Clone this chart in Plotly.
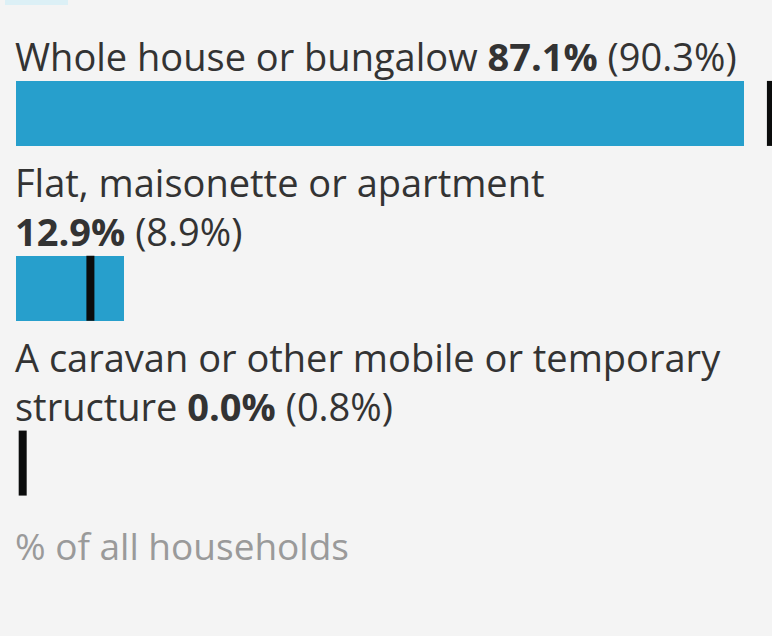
import plotly.graph_objects as go

# ---- data ----
categories = ["Whole house or bungalow",
              "Flat, maisonette or apartment",
              "A caravan or other mobile or temporary structure"]
area_values = [87.1, 12.9, 0.0]
comparison_values = [90.3, 8.9, 0.8]
axis_note = "% of all households"

# ---- styling / layout constants ----
W, H = 772, 636
BG = "#f4f4f4"
BAR = "#279fcc"
FONT = "Open Sans, Liberation Sans, sans-serif"
FS = 38
x0_px = 16            # pixel where 0% sits
px_per_pct = 8.36
band_px = 175         # spacing between bar centres
bar_px = 65
top_px = 113.5 - band_px / 2
bot_px = 463 + band_px / 2


def wrap(name, value_txt, width=38):
    words = name.split(" ")
    lines, cur = [], ""
    for w in words:
        t = (cur + " " + w).strip()
        if len(t) <= width:
            cur = t
        else:
            lines.append(cur)
            cur = w
    plain_tail = value_txt.replace("<b>", "").replace("</b>", "")
    if len(cur + " " + plain_tail) <= width:
        lines.append(cur + " " + value_txt)
    else:
        lines.append(cur)
        lines.append(value_txt)
    return "<br>".join(lines)


fig = go.Figure()
fig.add_trace(go.Bar(
    x=area_values, y=categories, orientation="h",
    marker=dict(color=BAR, line=dict(width=0)),
    width=bar_px / band_px, hoverinfo="skip", showlegend=False,
))
fig.add_trace(go.Scatter(
    x=comparison_values, y=categories, mode="markers",
    marker=dict(symbol="line-ns", size=bar_px / 1.4,
                line=dict(color="#0b0c0c", width=8)),
    hoverinfo="skip", showlegend=False, cliponaxis=False,
))

for cat, v, c in zip(categories, area_values, comparison_values):
    val_txt = f"<b>{v:.1f}%</b> ({c:.1f}%)"
    fig.add_annotation(
        x=0, y=cat, xref="x", yref="y",
        text=wrap(cat, val_txt),
        xanchor="left", yanchor="bottom", align="left",
        showarrow=False, yshift=bar_px / 2 - 3, xshift=-3,
        font=dict(family=FONT, size=FS, color="#333333"),
    )

fig.add_annotation(
    x=0, xref="x", xshift=-3,
    y=1 - 545 / H, yref="paper", yanchor="middle",
    xanchor="left", showarrow=False, text=axis_note,
    font=dict(family=FONT, size=37, color="#9a9a9a"),
)

# faint remnant of the legend swatch at the very top
fig.add_shape(type="rect", xref="paper", yref="paper",
              x0=5 / W, x1=68 / W, y0=1 - 5 / H, y1=1.01,
              line=dict(width=0), fillcolor="#dcf0f6")

fig.update_layout(
    width=W, height=H,
    margin=dict(l=0, r=0, t=0, b=0),
    paper_bgcolor=BG, plot_bgcolor=BG,
    bargap=0,
    xaxis=dict(range=[-x0_px / px_per_pct, (W - x0_px) / px_per_pct],
               domain=[0, 1], visible=False, fixedrange=True),
    yaxis=dict(categoryorder="array", categoryarray=categories,
               autorange=False, range=[2.5, -0.5],
               domain=[1 - bot_px / H, 1 - top_px / H],
               visible=False, fixedrange=True),
)

fig.write_html(
    "out.html",
    config={"displayModeBar": False},
    post_script="document.body.style.margin='0';"
                "document.body.style.background='" + BG + "';",
)
